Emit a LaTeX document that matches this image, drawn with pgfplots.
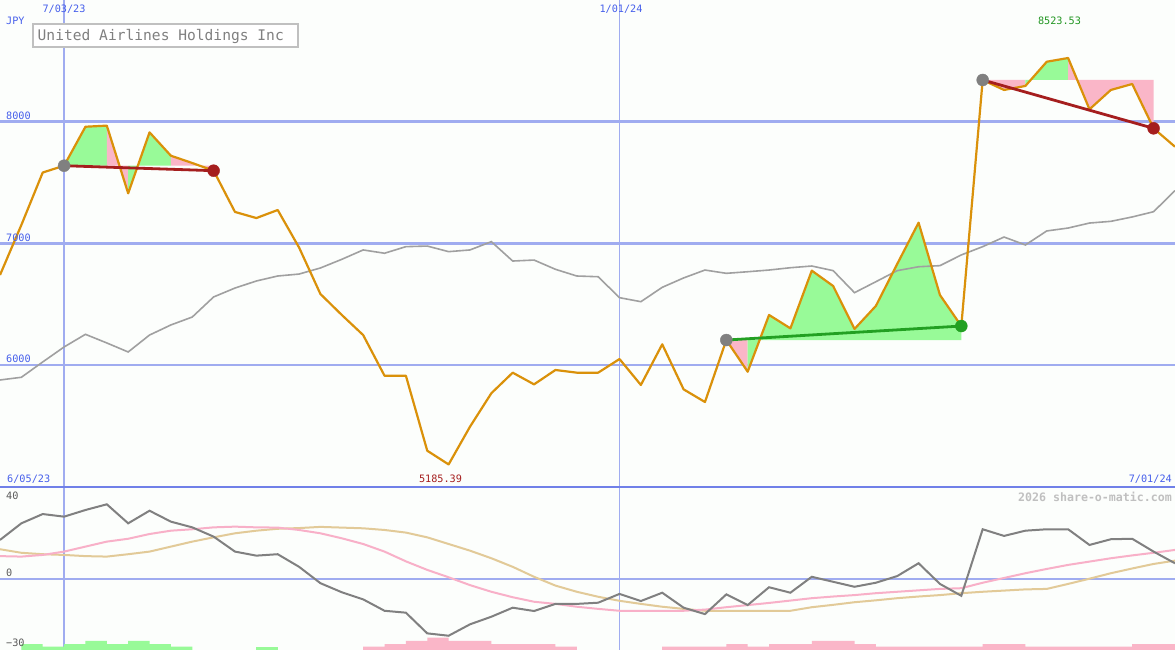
\documentclass[border=0pt]{standalone}
\usepackage{pgfplots}
\pgfplotsset{compat=1.18}
\usepackage{fontspec}
\newfontfamily\pix{DejaVu Sans Mono}
\definecolor{bgc}{RGB}{252,254,252}
\definecolor{price}{RGB}{218,145,10}
\definecolor{cmp}{RGB}{160,160,160}
\definecolor{gridb}{RGB}{160,172,240}
\definecolor{divb}{RGB}{112,128,232}
\definecolor{lblue}{RGB}{70,95,235}
\definecolor{dred}{RGB}{165,30,30}
\definecolor{dgreen}{RGB}{34,160,34}
\definecolor{lgreen}{RGB}{34,150,34}
\definecolor{fgreen}{RGB}{152,250,152}
\definecolor{fpink}{RGB}{250,182,200}
\definecolor{odark}{RGB}{128,128,128}
\definecolor{opink}{RGB}{248,176,200}
\definecolor{otan}{RGB}{226,202,152}
\definecolor{lowlbl}{RGB}{90,90,90}
\definecolor{wmark}{RGB}{192,192,192}
\definecolor{ttxt}{RGB}{128,128,128}
\definecolor{tbox}{RGB}{192,192,192}
\definecolor{dotgray}{RGB}{128,128,128}

\pgfplotstableread{
i price cmp
0 6741 5879
1 7152 5901
2 7583 6027
3 7639 6150
4 7959 6254
5 7968 6183
6 7412 6109
7 7913 6248
8 7721 6331
9 7661 6396
10 7598 6561
11 7259 6634
12 7209 6692
13 7275 6733
14 6967 6749
15 6585 6799
16 6413 6870
17 6248 6947
18 5914 6920
19 5914 6974
20 5298 6979
21 5185.39 6933
22 5495 6947
23 5770 7015
24 5939 6856
25 5843 6864
26 5961 6788
27 5939 6733
28 5939 6727
29 6051 6555
30 5838 6522
31 6172 6640
32 5802 6717
33 5698 6782
34 6207 6755
35 5947 6768
36 6413 6782
37 6303 6801
38 6777 6815
39 6651 6777
40 6298 6596
41 6487 6686
42 6832 6777
43 7171 6809
44 6577 6818
45 6322 6906
46 8343 6974
47 8261 7053
48 8294 6988
49 8493 7103
50 8523.53 7127
51 8102 7168
52 8261 7182
53 8310 7218
54 7946 7261
55 7795 7434
}\maintable

\pgfplotstableread{
i dark pink tan
0 16.3 9.5 12.4
1 23.3 9.3 10.9
2 27.2 10.0 10.3
3 26.1 11.4 10.0
4 28.9 13.5 9.5
5 31.3 15.6 9.3
6 23.3 16.8 10.3
7 28.6 18.8 11.4
8 24.0 20.2 13.5
9 21.6 20.8 15.6
10 17.7 21.6 17.4
11 11.4 21.9 19.1
12 9.7 21.6 20.2
13 10.3 21.5 21.0
14 5.0 20.5 21.3
15 -1.9 19.1 21.8
16 -5.7 17.0 21.5
17 -8.7 14.6 21.2
18 -13.5 11.4 20.5
19 -14.3 7.3 19.4
20 -23.0 3.7 17.4
21 -24.0 0.6 14.6
22 -19.2 -2.7 11.8
23 -16.0 -5.5 8.6
24 -12.2 -7.8 5.0
25 -13.6 -9.7 0.8
26 -10.6 -10.6 -2.9
27 -10.6 -11.8 -5.5
28 -10.1 -12.7 -7.6
29 -6.4 -13.5 -9.3
30 -9.4 -13.5 -10.6
31 -5.9 -13.5 -11.8
32 -12.2 -13.5 -12.7
33 -14.9 -13.0 -13.5
34 -6.6 -12.0 -13.5
35 -11.1 -11.1 -13.5
36 -3.6 -10.2 -13.5
37 -5.9 -9.2 -13.5
38 0.8 -8.2 -12.0
39 -1.3 -7.5 -11.0
40 -3.4 -6.9 -9.9
41 -1.7 -6.1 -9.1
42 1.1 -5.5 -8.2
43 6.5 -4.9 -7.5
44 -2.2 -4.3 -6.9
45 -7.2 -4.0 -6.1
46 20.8 -1.7 -5.5
47 18.0 0.3 -5.0
48 20.2 2.3 -4.5
49 20.8 4.1 -4.3
50 20.8 5.8 -2.2
51 14.2 7.2 0.0
52 16.6 8.6 2.3
53 16.8 9.8 4.3
54 11.4 10.9 6.2
55 6.5 12.1 7.6
}\lowtable

\begin{document}
\begin{tikzpicture}
\fill[bgc] (0pt,0pt) rectangle (1175pt,650pt);
% ---------- main panel ----------
\begin{axis}[at={(0pt,163pt)}, anchor=south west, scale only axis,
  width=1175pt, height=487pt, xmin=0, xmax=55, ymin=5000, ymax=9000,
  hide axis, clip=true]
\draw[gridb, line width=2.5pt] (axis cs:0,8000) -- (axis cs:55,8000);
\draw[gridb, line width=2.5pt] (axis cs:0,7000) -- (axis cs:55,7000);
\draw[gridb, line width=2.5pt] (axis cs:0,6000) -- (axis cs:55,6000);
\draw[gridb, line width=2.5pt] (axis cs:3,5000) -- (axis cs:3,9000);
\draw[gridb, line width=1.4pt] (axis cs:29,5000) -- (axis cs:29,9000);
% fills annotation 1
\addplot[fill=fgreen, draw=none] coordinates {(3,7639)(4,7959)(5,7968)(5,7639)};
\addplot[fill=fpink, draw=none] coordinates {(5,7639)(5,7968)(6,7412)(6,7639)};
\addplot[fill=fgreen, draw=none] coordinates {(6,7639)(6,7412)(7,7913)(8,7721)(8,7639)};
\addplot[fill=fpink, draw=none] coordinates {(8,7639)(8,7721)(9,7661)(10,7598)(10,7639)};
% fills annotation 2
\addplot[fill=fpink, draw=none] coordinates {(34,6207)(35,5947)(35,6207)};
\addplot[fill=fgreen, draw=none] coordinates {(35,6207)(35,5947)(36,6413)(37,6303)(38,6777)(39,6651)(40,6298)(41,6487)(42,6832)(43,7171)(44,6577)(45,6322)(45,6207)};
% fills annotation 3
\addplot[fill=fpink, draw=none] coordinates {(46,8343)(47,8261)(48,8294)(48,8343)};
\addplot[fill=fgreen, draw=none] coordinates {(48,8343)(48,8294)(49,8493)(50,8523.53)(50,8343)};
\addplot[fill=fpink, draw=none] coordinates {(50,8343)(50,8523.53)(51,8102)(52,8261)(53,8310)(54,7946)(54,8343)};
% comparison line
\addplot[cmp, line width=1.6pt] table[x=i, y=cmp] {\maintable};
% price line
\addplot[price, line width=2.2pt, line join=round] table[x=i, y=price] {\maintable};
% trend lines
\addplot[dred, line width=2.8pt] coordinates {(3,7639)(10,7598)};
\addplot[dgreen, line width=2.8pt] coordinates {(34,6207)(45,6322)};
\addplot[dred, line width=2.8pt] coordinates {(46,8343)(54,7946)};
% dots
\addplot[only marks, mark=*, mark size=6pt, mark options={fill=dotgray, draw=dotgray}] coordinates {(3,7639)(34,6207)(46,8343)};
\addplot[only marks, mark=*, mark size=6pt, mark options={fill=dred, draw=dred}] coordinates {(10,7598)(54,7946)};
\addplot[only marks, mark=*, mark size=6pt, mark options={fill=dgreen, draw=dgreen}] coordinates {(45,6322)};
\end{axis}
% ---------- lower panel ----------
\begin{axis}[at={(0pt,0pt)}, anchor=south west, scale only axis,
  width=1175pt, height=163pt, xmin=0, xmax=55, ymin=-30, ymax=38.58,
  hide axis, clip=true]
\draw[gridb, line width=2.3pt] (axis cs:0,0) -- (axis cs:55,0);
\draw[gridb, line width=2.5pt] (axis cs:3,-30) -- (axis cs:3,40);
\draw[gridb, line width=1.4pt] (axis cs:29,-30) -- (axis cs:29,40);
% bars
\addplot[fill=fgreen, draw=none] coordinates {(1,-30)(1,-27.5)(2,-27.5)(2,-28.6)(3,-28.6)(3,-27.5)(4,-27.5)(4,-26.2)(5,-26.2)(5,-27.5)(6,-27.5)(6,-26.2)(7,-26.2)(7,-27.5)(8,-27.5)(8,-28.6)(9,-28.6)(9,-30)};
\addplot[fill=fgreen, draw=none] coordinates {(12,-30)(12,-28.6)(13,-28.6)(13,-30)};
\addplot[fill=fpink, draw=none] coordinates {(17,-30)(17,-28.6)(18,-28.6)(18,-27.5)(19,-27.5)(19,-26.2)(20,-26.2)(20,-24.8)(21,-24.8)(21,-26.2)(23,-26.2)(23,-27.5)(26,-27.5)(26,-28.6)(27,-28.6)(27,-30)};
\addplot[fill=fpink, draw=none] coordinates {(31,-30)(31,-28.6)(34,-28.6)(34,-27.5)(35,-27.5)(35,-28.6)(36,-28.6)(36,-27.5)(38,-27.5)(38,-26.2)(40,-26.2)(40,-27.5)(41,-27.5)(41,-28.6)(46,-28.6)(46,-27.5)(48,-27.5)(48,-28.6)(53,-28.6)(53,-27.5)(55,-27.5)(55,-30)};
% oscillator lines
\addplot[otan, line width=2pt] table[x=i, y=tan] {\lowtable};
\addplot[opink, line width=2pt] table[x=i, y=pink] {\lowtable};
\addplot[odark, line width=2pt] table[x=i, y=dark] {\lowtable};
\end{axis}
\draw[divb, line width=2.5pt] (0pt,163pt) -- (1175pt,163pt);
% ---------- texts ----------
\draw[tbox, line width=2pt, fill=white] (33pt,625.5pt) rectangle (297.5pt,602.5pt);
\node[anchor=west, inner sep=0pt, text=ttxt, font=\pix\fontsize{14.6}{16}\selectfont] at (37.5pt,614pt) {United Airlines Holdings Inc};
\begin{scope}[every node/.style={inner sep=0pt, font=\pix\fontsize{10.2}{12}\selectfont}]
\node[text=lblue] at (64pt,641pt) {7/03/23};
\node[text=lblue] at (621pt,641pt) {1/01/24};
\node[text=lblue, anchor=west] at (6pt,629pt) {JPY};
\node[text=lblue, anchor=west] at (6pt,534pt) {8000};
\node[text=lblue, anchor=west] at (6pt,412pt) {7000};
\node[text=lblue, anchor=west] at (6pt,291pt) {6000};
\node[text=lblue, anchor=west] at (7pt,171pt) {6/05/23};
\node[text=lblue, anchor=east] at (1172pt,171pt) {7/01/24};
\node[text=dred] at (440.5pt,171pt) {5185.39};
\node[text=lgreen] at (1059.5pt,629pt) {8523.53};
\node[text=lowlbl, anchor=west] at (6pt,154pt) {40};
\node[text=lowlbl, anchor=west] at (6pt,77pt) {0};
\node[text=lowlbl, anchor=west] at (6pt,7pt) {−30};
\end{scope}
\node[anchor=east, inner sep=0pt, text=wmark, font=\pix\bfseries\fontsize{11.6}{13}\selectfont] at (1172pt,153.5pt) {2026 share-o-matic.com};
\pgfresetboundingbox
\path[use as bounding box] (0pt,0pt) rectangle (1175pt,650pt);
\end{tikzpicture}
\end{document}
